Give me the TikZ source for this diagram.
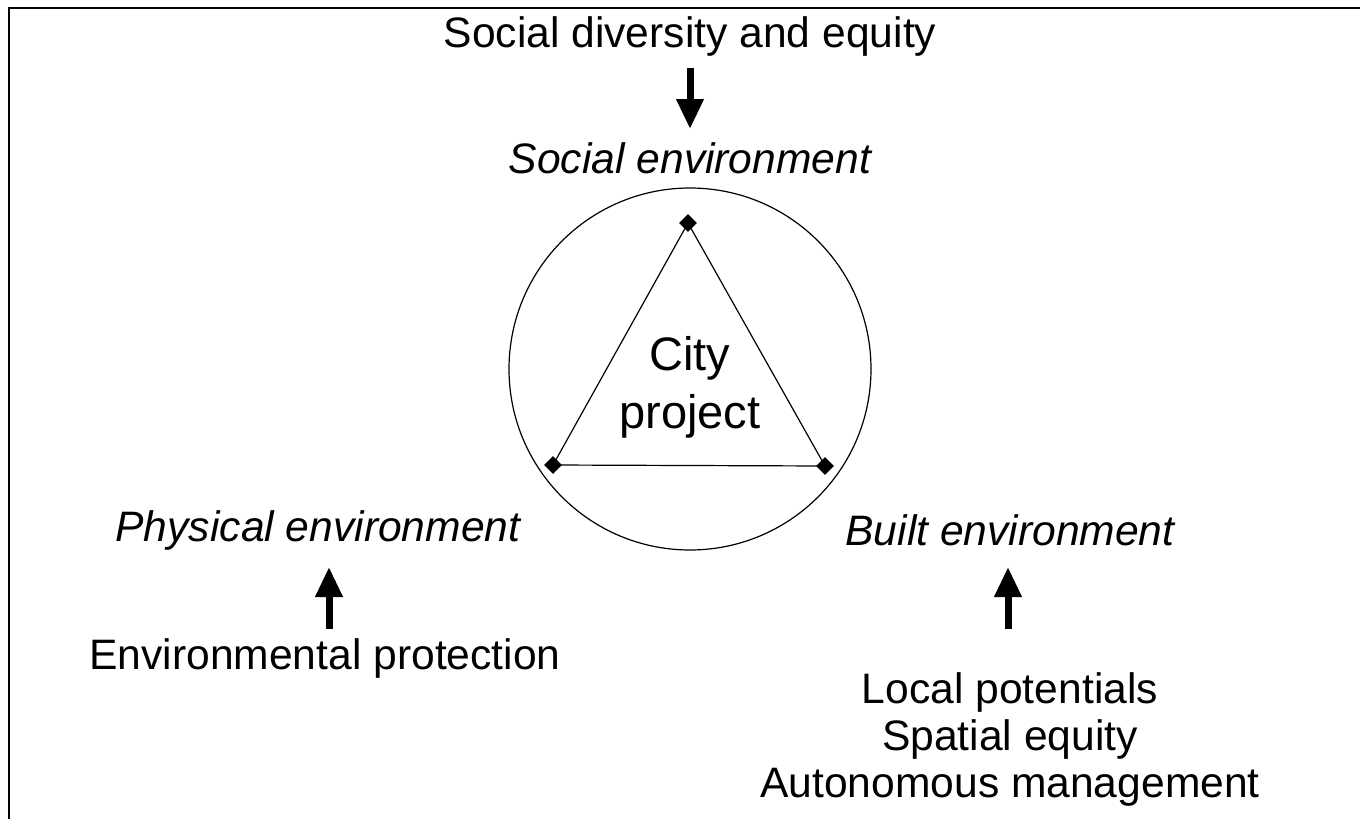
\documentclass[tikz,border=0pt]{standalone}
\usepackage{fontspec}
\setmainfont{Liberation Sans}
\usetikzlibrary{arrows.meta,shapes.geometric}
\begin{document}
\begin{tikzpicture}[x=0.5pt,y=-0.5pt,
  lbl/.style={inner sep=0pt,font=\fontsize{21.3}{23.5}\selectfont},
  ilbl/.style={lbl,font=\fontsize{21.3}{23.5}\selectfont\itshape},
  bigarrow/.style={line width=3.5pt,-{Triangle[width=13pt,length=15pt]}},
  vtx/.style={diamond,fill=black,inner sep=0pt,minimum size=9pt},
  edge/.style={line width=0.6pt}]
\useasboundingbox (0,0) rectangle (1360,819);
\draw[line width=1.1pt] (9,819) -- (9,8) -- (1360,8);
% top
\node[lbl] (sde) at (690,36) {Social diversity and equity};
\node[ilbl] (soc) at (690,158) {Social environment};
\coordinate (a1s) at (690,68);
\coordinate (a1e) at (690,129);
\draw[bigarrow] (a1s) -- (a1e);
% circle and triangle
\node[draw,circle,line width=0.6pt,minimum size=181pt,inner sep=0pt] (ring) at (690,369) {};
\node[vtx] (vt) at (688,223) {};
\node[vtx] (vl) at (553,465) {};
\node[vtx] (vr) at (825,466) {};
\draw[edge] (vt.center) -- (vl.center) -- (vr.center) -- cycle;
\node[lbl,font=\fontsize{23.5}{29}\selectfont,align=center] (city) at (690,387) {City\\project};
% left
\node[ilbl] (phys) at (318,530) {Physical environment};
\node[lbl] (envp) at (325,658) {Environmental protection};
\coordinate (a2s) at (329,629);
\coordinate (a2e) at (329,567);
\draw[bigarrow] (a2s) -- (a2e);
% right
\node[ilbl] (built) at (1010,530) {Built environment};
\node[lbl,align=center] (loc) at (1010,739) {Local potentials\\Spatial equity\\Autonomous management};
\coordinate (a3s) at (1008,629);
\coordinate (a3e) at (1008,567);
\draw[bigarrow] (a3s) -- (a3e);
\end{tikzpicture}
\end{document}
